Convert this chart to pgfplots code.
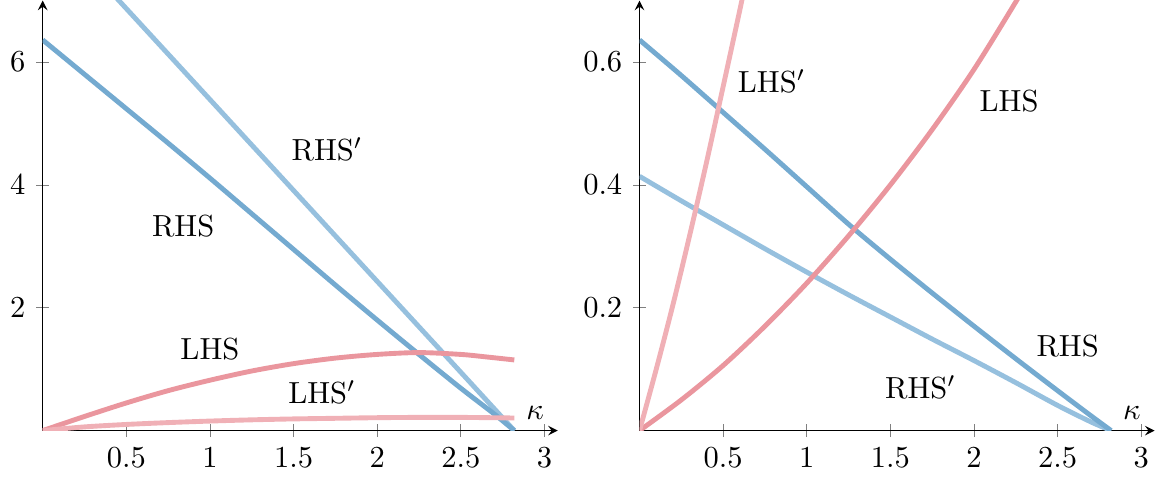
\documentclass[border=0pt]{standalone}
\usepackage{pgfplots}
\pgfplotsset{compat=1.18}
\definecolor{rhs}{RGB}{116,170,208}
\definecolor{rhsp}{RGB}{150,192,222}
\definecolor{lhs}{RGB}{234,150,158}
\definecolor{lhsp}{RGB}{240,176,182}
\begin{document}
\begin{tikzpicture}
\pgfplotsset{
  every axis/.append style={
    axis lines=middle, scale only axis, width=168.9pt, height=141pt,
    xmin=0, xmax=3.08, ymin=0,
    xtick={0.5,1,1.5,2,2.5,3},
    xlabel={$\kappa$},
    xlabel style={at={(axis description cs:1,0)}, anchor=south east, xshift=-1pt},
    every axis plot/.append style={line width=1.6pt, line join=round, smooth, tension=0.5},
  }
}
\begin{axis}[ymax=7, ytick={2,4,6}]
\addplot[rhsp] coordinates {(0,8.35) (0.5,6.87) (1,5.39) (1.5,3.91) (2,2.43) (2.5,0.95) (2.82,0)};
\addplot[rhs] coordinates {(0,6.36) (0.25,5.8) (0.5,5.24) (0.75,4.68) (1,4.11) (1.25,3.53) (1.5,2.95) (1.75,2.37) (2,1.8) (2.25,1.24) (2.5,0.69) (2.7,0.27) (2.82,0)};
\addplot[lhs] coordinates {(0,0) (0.25,0.23) (0.5,0.45) (0.75,0.65) (1,0.82) (1.25,0.97) (1.5,1.09) (1.75,1.18) (2,1.24) (2.25,1.27) (2.5,1.24) (2.65,1.2) (2.82,1.15)};
\addplot[lhsp] coordinates {(0,0) (0.25,0.06) (0.5,0.1) (0.75,0.13) (1,0.155) (1.25,0.175) (1.5,0.19) (1.75,0.2) (2,0.21) (2.25,0.215) (2.5,0.215) (2.82,0.205)};
\node at (axis cs:1.70,4.57) {RHS$'$};
\node at (axis cs:0.84,3.33) {RHS};
\node at (axis cs:1.0,1.33) {LHS};
\node at (axis cs:1.67,0.62) {LHS$'$};
\end{axis}
\begin{axis}[at={(195.7pt,0)}, ymax=0.7, ytick={0.2,0.4,0.6}]
\addplot[rhsp] coordinates {(0,0.414) (0.25,0.374) (0.5,0.335) (0.75,0.296) (1,0.258) (1.25,0.221) (1.5,0.185) (1.75,0.149) (2,0.114) (2.25,0.078) (2.5,0.041) (2.7,0.014) (2.82,0)};
\addplot[rhs] coordinates {(0,0.636) (0.25,0.578) (0.5,0.518) (0.75,0.458) (1,0.397) (1.25,0.336) (1.5,0.279) (1.75,0.224) (2,0.17) (2.25,0.117) (2.5,0.065) (2.7,0.024) (2.82,0)};
\addplot[lhs] coordinates {(0,0) (0.25,0.05) (0.5,0.106) (0.75,0.17) (1,0.24) (1.25,0.317) (1.5,0.4) (1.75,0.49) (2,0.588) (2.25,0.698) (2.35,0.745)};
\addplot[lhsp] coordinates {(0,0) (0.1,0.1) (0.2,0.205) (0.3,0.318) (0.4,0.436) (0.5,0.56) (0.6,0.685) (0.65,0.75)};
\node at (axis cs:0.79,0.569) {LHS$'$};
\node at (axis cs:2.21,0.537) {LHS};
\node at (axis cs:2.56,0.138) {RHS};
\node at (axis cs:1.68,0.07) {RHS$'$};
\end{axis}
\end{tikzpicture}
\end{document}
